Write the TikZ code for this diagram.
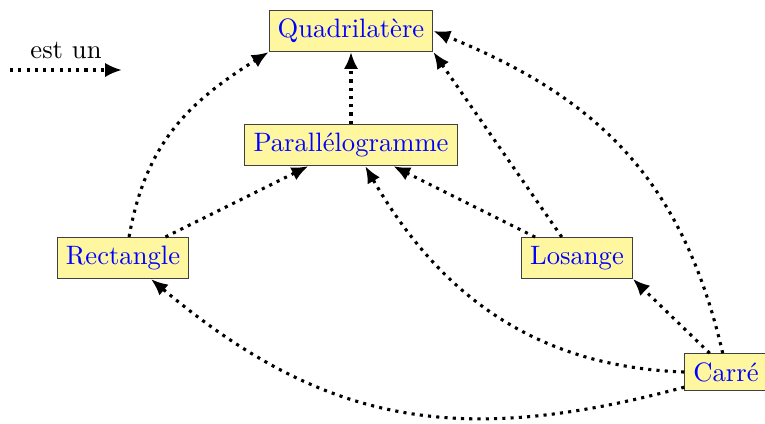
\documentclass[tikz,border=0pt]{standalone}
\usetikzlibrary{arrows.meta}
\definecolor{boxfill}{RGB}{255,246,160}
\begin{document}
\begin{tikzpicture}[x=0.387pt,y=0.387pt,
  every node/.style={font=\fontsize{10.3}{12}\selectfont},
  box/.style={draw=black!75, fill=boxfill, text=blue, inner sep=0.333em},
  isa/.style={very thick, dotted, -{Latex[length=6.5pt,width=5.5pt]}}]
\useasboundingbox (0,0) rectangle (765,423);
\node[box] (quad) at (351,392) {Quadrilatère};
\node[box] (par) at (351,278) {Parallélogramme};
\node[box] (rect) at (123,165) {Rectangle};
\node[box] (los) at (577,165) {Losange};
\node[box] (car) at (726,51) {Carré};
\coordinate (la) at (10,353);
\coordinate (lb) at (122,353);
\node (lt) at (66,373) {est un};
\draw[isa] (la) -- (lb);
\draw[isa] (par.north) -- (quad.south);
\draw[isa] (rect) -- (par);
\draw[isa] (los) -- (par);
\draw[isa] (los.126) -- (quad.south east);
\draw[isa] (rect.74) to[out=80,in=212,looseness=1.05] (quad.south west);
\draw[isa] (car.131) -- (los.south east);
\draw[isa] (car.100) to[out=103,in=-22,looseness=1.05] (quad.east);
\draw[isa] (car.west) to[out=178,in=-60] (par.304);
\draw[isa] (car.200) to[out=195,in=-40,looseness=1.08] (rect.323);
\end{tikzpicture}
\end{document}
